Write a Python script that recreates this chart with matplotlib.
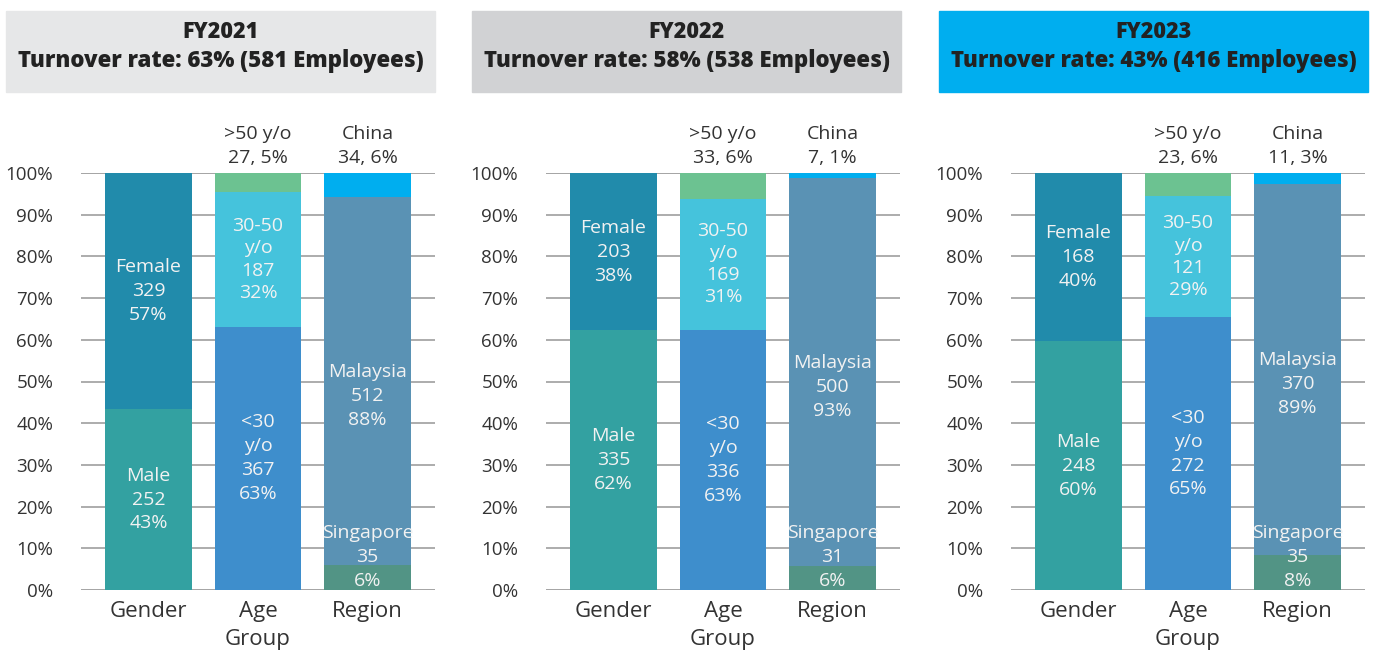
import matplotlib.pyplot as plt
from matplotlib.patches import Rectangle

plt.rcParams['font.family'] = ['Open Sans', 'DejaVu Sans']

years = ['FY2021', 'FY2022', 'FY2023']
rates = ['63%', '58%', '43%']
totals = [581, 538, 416]
categories = ['Gender', 'Age\nGroup', 'Region']

# counts per segment (bottom -> top)
male = [252, 335, 248]
female = [329, 203, 168]
age_u30 = [367, 336, 272]
age_3050 = [187, 169, 121]
age_o50 = [27, 33, 23]
singapore = [35, 31, 35]
malaysia = [512, 500, 370]
china = [34, 7, 11]

pct_male = ['43%', '62%', '60%']
pct_female = ['57%', '38%', '40%']
pct_u30 = ['63%', '63%', '65%']
pct_3050 = ['32%', '31%', '29%']
pct_o50 = ['5%', '6%', '6%']
pct_sg = ['6%', '6%', '8%']
pct_my = ['88%', '93%', '89%']
pct_cn = ['6%', '1%', '3%']

header_colors = ['#e6e7e8', '#d1d2d4', '#00aeef']
c_female = '#218bab'
c_male = '#33a1a1'
c_u30 = '#3e8ecc'
c_3050 = '#45c3dc'
c_o50 = '#6cc291'
c_my = '#5a92b4'
c_sg = '#529485'
c_cn = '#00aeef'
white = '#f2f2f2'
dark = '#333333'

W, H = 1375, 650
fig = plt.figure(figsize=(W / 100, H / 100), dpi=100)

ax_lefts = [81, 546, 1011]
hdr_lefts = [6, 472, 939]
fs = 14
ls = 1.42

for k in range(3):
    # header box
    fig.patches.append(Rectangle((hdr_lefts[k] / W, 1 - 92 / H), 429 / W, 81 / H,
                                 transform=fig.transFigure, color=header_colors[k], zorder=0))
    cx = (hdr_lefts[k] + 429 / 2) / W
    fig.text(cx, 1 - 32 / H, years[k], ha='center', va='center', fontsize=15.5,
             fontweight='heavy', color='#222222')
    fig.text(cx, 1 - 61 / H, f'Turnover rate: {rates[k]} ({totals[k]} Employees)',
             ha='center', va='center', fontsize=16, fontweight='heavy', color='#222222')

    ax = fig.add_axes([ax_lefts[k] / W, 60 / H, 354 / W, 417 / H])
    t = totals[k]
    x = [0, 1, 2]
    bw = 0.79

    # gender
    ax.bar(0, male[k] / t, bw, color=c_male, zorder=2)
    ax.bar(0, female[k] / t, bw, bottom=male[k] / t, color=c_female, zorder=2)
    # age
    ax.bar(1, age_u30[k] / t, bw, color=c_u30, zorder=2)
    ax.bar(1, age_3050[k] / t, bw, bottom=age_u30[k] / t, color=c_3050, zorder=2)
    ax.bar(1, age_o50[k] / t, bw, bottom=(age_u30[k] + age_3050[k]) / t, color=c_o50, zorder=2)
    # region
    ax.bar(2, singapore[k] / t, bw, color=c_sg, zorder=2)
    ax.bar(2, malaysia[k] / t, bw, bottom=singapore[k] / t, color=c_my, zorder=2)
    ax.bar(2, china[k] / t, bw, bottom=(singapore[k] + malaysia[k]) / t, color=c_cn, zorder=2)

    kw = dict(ha='center', va='center', color=white, fontsize=fs, linespacing=ls, zorder=3)
    ax.text(0, male[k] / t / 2, f'Male\n{male[k]}\n{pct_male[k]}', **kw)
    ax.text(0, (male[k] + female[k] / 2) / t, f'Female\n{female[k]}\n{pct_female[k]}', **kw)
    ax.text(1, age_u30[k] / t / 2, f'<30\ny/o\n{age_u30[k]}\n{pct_u30[k]}', **kw)
    ax.text(1, (age_u30[k] + age_3050[k] / 2) / t, f'30-50\ny/o\n{age_3050[k]}\n{pct_3050[k]}',
            ha='center', va='center', color=white, fontsize=fs, linespacing=1.3, zorder=3)
    ax.text(2, (singapore[k] + malaysia[k] / 2) / t - 0.035, f'Malaysia\n{malaysia[k]}\n{pct_my[k]}', **kw)
    ax.text(2, 0.0, f'Singapore\n{singapore[k]}\n{pct_sg[k]}', ha='center', va='bottom',
            color=white, fontsize=fs, linespacing=ls, zorder=3)

    top = dict(ha='center', va='bottom', color=dark, fontsize=fs, linespacing=1.4)
    ax.text(1, 1.015, f'>50 y/o\n{age_o50[k]}, {pct_o50[k]}', **top)
    ax.text(2, 1.015, f'China\n{china[k]}, {pct_cn[k]}', **top)

    ax.set_xlim(-0.615, 2.615)
    ax.set_ylim(0, 1)
    ax.set_yticks([i / 10 for i in range(11)])
    ax.set_yticklabels([f'{i * 10}%' for i in range(11)], fontsize=13.5, color=dark)
    ax.set_xticks(x)
    ax.set_xticklabels(categories, fontsize=16, color=dark, linespacing=1.4)
    ax.tick_params(length=0, pad=8)
    ax.tick_params(axis='y', pad=20)
    ax.grid(axis='y', color='#a6a6a6', linewidth=1.3, zorder=0)
    ax.set_axisbelow(True)
    for s in ax.spines.values():
        s.set_visible(False)
    ax.axhline(0, color='#a6a6a6', linewidth=1.3, zorder=1)
    ax.axhline(1, color='#a6a6a6', linewidth=1.3, zorder=1)

fig.savefig('out.png', dpi=100)
